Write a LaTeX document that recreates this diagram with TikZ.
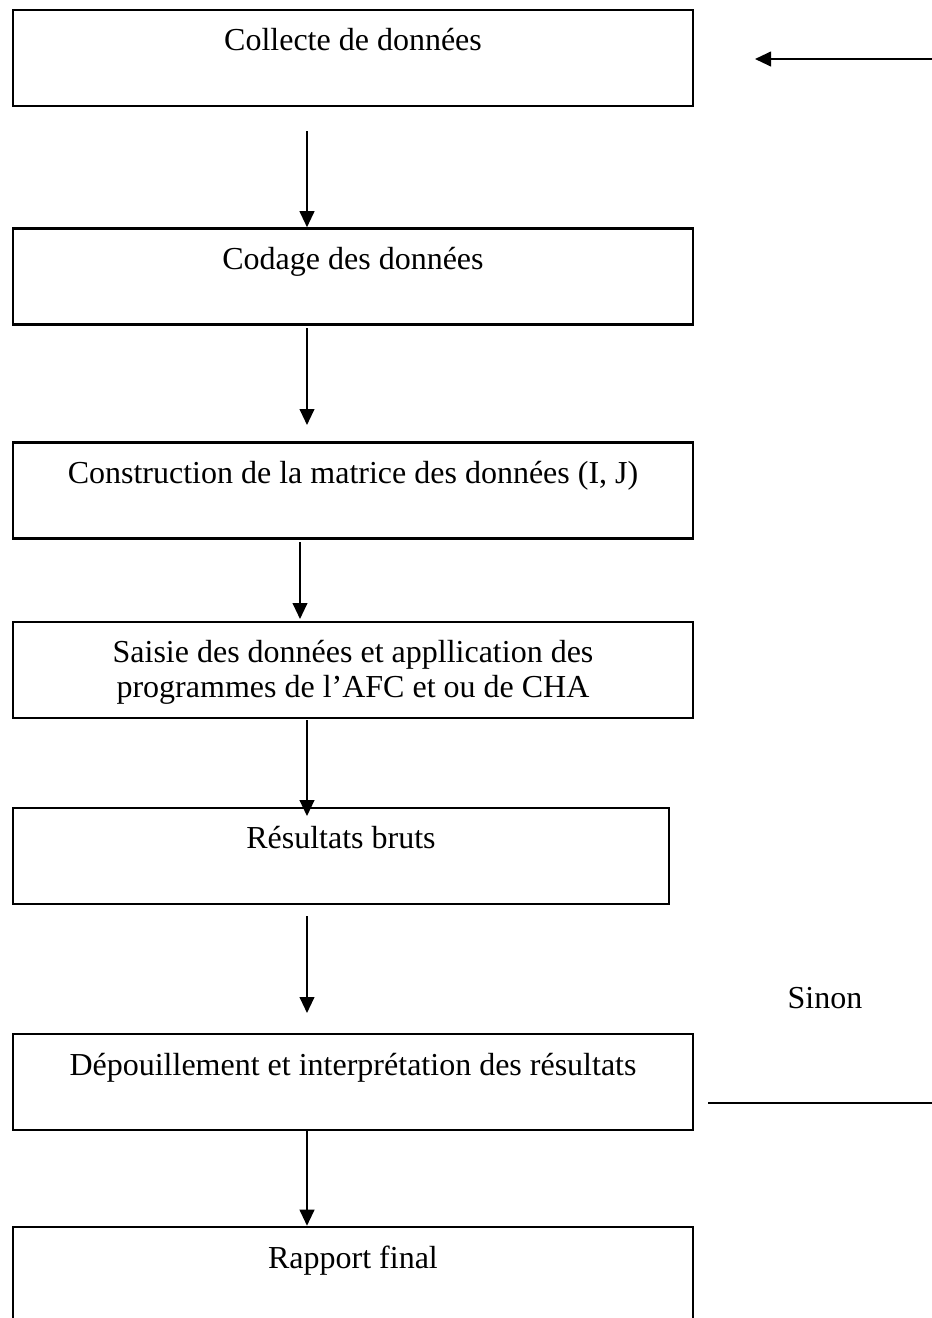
\documentclass[tikz,border=0pt]{standalone}
\usepackage{fontspec}
\setmainfont{Liberation Serif}
\usetikzlibrary{arrows.meta}

\begin{document}
\begin{tikzpicture}[%
      x=0.75pt, y=-0.75pt,
      box/.style={draw, line width=1.9pt, minimum height=72pt, inner sep=0pt},
      lbl/.style={anchor=base, inner sep=0pt, align=center, font=\fontsize{24}{26.25}\selectfont},
      flow/.style={line width=1.5pt, -{Triangle[length=12pt,width=11pt]}},
      ]
      \clip (0,0) rectangle (932,1318);

      \node [box, minimum width=510pt] (b1) at (353,58) {};
      \node [box, minimum width=510pt] (b2) at (353,276.5) {};
      \node [box, minimum width=510pt] (b3) at (353,490.5) {};
      \node [box, minimum width=510pt] (b4) at (353,670) {};
      \node [box, minimum width=492pt] (b5) at (341,856) {};
      \node [box, minimum width=510pt] (b6) at (353,1082) {};
      \node [box, minimum width=510pt] (b7) at (353,1275) {};

      \node [lbl] (t1) at (353,50) {Collecte de données};
      \node [lbl] (t2) at (353,269) {Codage des données};
      \node [lbl] (t3) at (353,483) {Construction de la matrice des données (I, J)};
      \node [lbl] (t4) at (353,697) {Saisie des données et appllication des\\programmes de l’AFC et ou de CHA};
      \node [lbl] (t5) at (341,848) {Résultats bruts};
      \node [lbl] (t6) at (353,1075) {Dépouillement et interprétation des résultats};
      \node [lbl] (t7) at (353,1268) {Rapport final};
      \node [lbl] (sinon) at (825,1008) {Sinon};

      \coordinate (a1) at (307,131);
      \coordinate (a2) at (307,328);
      \coordinate (a3) at (300,542);
      \coordinate (a4) at (307,720);
      \coordinate (a5) at (307,916);
      \coordinate (a6) at (307,1131);
      \coordinate (r1) at (932,59);
      \coordinate (r2) at (755,59);
      \coordinate (s1) at (708,1103);
      \coordinate (s2) at (932,1103);

      \draw [flow] (a1) -- (a1 |- b2.north);
      \draw [flow] (a2) -- (307,425);
      \draw [flow] (a3) -- (300,619);
      \draw [flow] (a4) -- ([yshift=-7pt]a4 |- b5.north);
      \draw [flow] (a5) -- (307,1013);
      \draw [flow] (a6) -- (a6 |- b7.north);

      \draw [flow] (r1) -- (r2);
      \draw [line width=1.5pt] (s1) -- (s2);
\end{tikzpicture}
\end{document}
